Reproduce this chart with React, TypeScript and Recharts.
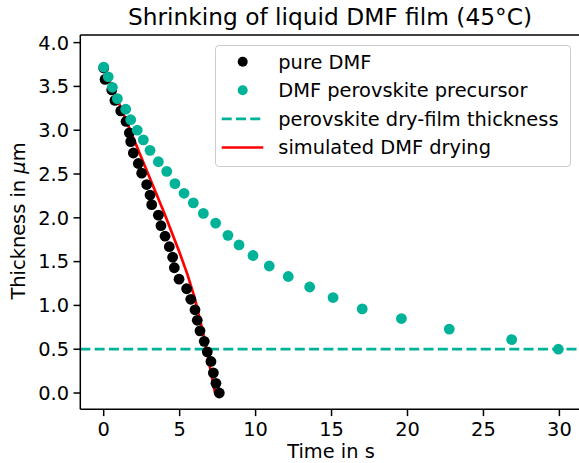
import React from 'react';
import {
  ComposedChart,
  Scatter,
  Line,
  XAxis,
  YAxis,
  ReferenceLine,
  Legend,
} from 'recharts';

// ---- data ----
const pureTime = [0, 0.09, 0.53, 0.74, 1.12, 1.47, 1.69, 1.78, 1.95, 2.28, 2.5, 2.83, 3.05, 3.16, 3.6, 3.77, 4.04, 4.32, 4.54, 4.65, 4.96, 5.46, 5.73, 6.01, 6.16, 6.34, 6.62, 6.82, 7.06, 7.22, 7.39, 7.61];
const pureThick = [3.71, 3.58, 3.46, 3.34, 3.22, 3.1, 2.97, 2.87, 2.74, 2.62, 2.51, 2.38, 2.26, 2.15, 2.03, 1.91, 1.79, 1.67, 1.55, 1.43, 1.3, 1.19, 1.07, 0.95, 0.83, 0.71, 0.59, 0.47, 0.36, 0.23, 0.11, 0.0];

const precTime = [0, 0.3, 0.57, 0.9, 1.45, 1.78, 2.21, 2.61, 3.05, 3.6, 4.15, 4.69, 5.29, 5.9, 6.56, 7.37, 8.18, 8.91, 9.83, 10.9, 12.15, 13.56, 15.1, 17.02, 19.6, 22.75, 26.86, 29.93];
const precThick = [3.72, 3.61, 3.49, 3.36, 3.24, 3.12, 3.0, 2.89, 2.77, 2.64, 2.53, 2.39, 2.28, 2.17, 2.05, 1.94, 1.8, 1.69, 1.57, 1.45, 1.33, 1.21, 1.09, 0.96, 0.85, 0.73, 0.61, 0.5];

const simTime = [0, 1, 2, 3, 4, 5, 5.5, 6, 6.5, 7, 7.33];
const simThick = [3.72, 3.31, 2.89, 2.47, 2.05, 1.6, 1.36, 1.08, 0.72, 0.29, 0.0];

const dryFilmThickness = 0.5;

const xTicks = [0, 5, 10, 15, 20, 25, 30];
const yTicks = [0, 0.5, 1, 1.5, 2, 2.5, 3, 3.5, 4];

const pureData = pureTime.map((t, i) => ({ t, h: pureThick[i] }));
const precData = precTime.map((t, i) => ({ t, h: precThick[i] }));
const simData = simTime.map((t, i) => ({ t, h: simThick[i] }));

// ---- style ----
const FONT = '"DejaVu Sans", sans-serif';
const FS = 19.4;
const TEAL = '#00b398';
const RED = '#ff0000';
const LW = 2.7;
const DASH = '10 4.3';
const X_DOMAIN: [number, number] = [-1.54, 31.29];
const Y_DOMAIN: [number, number] = [-0.186, 4.087];

const dot = (color: string) => (props: any) => (
  <circle cx={props.cx} cy={props.cy} r={5.4} fill={color} />
);

const legendItems = [
  { label: 'pure DMF', kind: 'dot', color: '#000000' },
  { label: 'DMF perovskite precursor', kind: 'dot', color: TEAL },
  { label: 'perovskite dry-film thickness', kind: 'dash', color: TEAL },
  { label: 'simulated DMF drying', kind: 'line', color: RED },
];

const LegendBox = () => (
  <div
    style={{
      width: 356,
      height: 122,
      boxSizing: 'border-box',
      border: '1px solid #cccccc',
      borderRadius: 4,
      background: 'rgba(255,255,255,0.8)',
      position: 'relative',
    }}
  >
    <svg width={356} height={122} style={{ position: 'absolute', left: -1, top: -1 }}>
      {legendItems.map((it, i) => {
        const cy = 16.7 + i * 28.6;
        return (
          <g key={it.label}>
            {it.kind === 'dot' && <circle cx={27.7} cy={cy} r={5} fill={it.color} />}
            {it.kind === 'dash' && (
              <line x1={6.7} x2={48.3} y1={cy} y2={cy} stroke={it.color} strokeWidth={LW} strokeDasharray={DASH} />
            )}
            {it.kind === 'line' && (
              <line x1={6.7} x2={48.3} y1={cy} y2={cy} stroke={it.color} strokeWidth={LW} />
            )}
            <text x={63.3} y={cy} dy="0.36em" fontFamily={FONT} fontSize={FS} fill="#000">
              {it.label}
            </text>
          </g>
        );
      })}
    </svg>
  </div>
);

export default function App() {
  return (
    <div style={{ position: 'absolute', left: 0, top: 0, width: 579, height: 463, overflow: 'hidden', background: '#fff' }}>
      <ComposedChart
        width={579}
        height={463}
        margin={{ top: 35, right: 0, bottom: 13.7, left: 0 }}
      >
        <XAxis
          dataKey="t"
          type="number"
          domain={X_DOMAIN}
          ticks={xTicks}
          allowDataOverflow
          height={40}
          tickSize={6.8}
          tickMargin={6}
          stroke="#000"
          strokeWidth={1.5}
          tick={{ fill: '#000', fontSize: FS, fontFamily: FONT }}
          tickFormatter={(v: number) => String(v)}
          label={{
            content: () => (
              <text x={331} y={458} textAnchor="middle" fontFamily={FONT} fontSize={FS} fill="#000">
                Time in s
              </text>
            ),
          }}
        />
        <YAxis
          dataKey="h"
          type="number"
          domain={Y_DOMAIN}
          ticks={yTicks}
          allowDataOverflow
          width={80.3}
          tickSize={6.8}
          tickMargin={4.5}
          stroke="#000"
          strokeWidth={1.5}
          tick={{ fill: '#000', fontSize: FS, fontFamily: FONT }}
          tickFormatter={(v: number) => v.toFixed(1)}
          label={{
            content: () => (
              <text
                x={25}
                y={221}
                textAnchor="middle"
                transform="rotate(-90, 25, 221)"
                fontFamily={FONT}
                fontSize={FS}
                fill="#000"
              >
                Thickness in <tspan fontStyle="italic">μ</tspan>m
              </text>
            ),
          }}
        />
        <ReferenceLine y={Y_DOMAIN[1]} stroke="#000" strokeWidth={1.5} />
        <Scatter
          name="pure DMF"
          data={pureData}
          dataKey="h"
          fill="#000"
          shape={dot('#000000')}
          isAnimationActive={false}
        />
        <Scatter
          name="DMF perovskite precursor"
          data={precData}
          dataKey="h"
          fill={TEAL}
          shape={dot(TEAL)}
          isAnimationActive={false}
        />
        <ReferenceLine
          y={dryFilmThickness}
          stroke={TEAL}
          strokeWidth={LW}
          strokeDasharray={DASH}
        />
        <Line
          name="simulated DMF drying"
          data={simData}
          dataKey="h"
          type="linear"
          stroke={RED}
          strokeWidth={LW}
          dot={false}
          activeDot={false}
          isAnimationActive={false}
        />
        <Legend
          layout="horizontal"
          verticalAlign="middle"
          align="center"
          wrapperStyle={{ position: 'absolute', left: 215, top: 45, width: 356, height: 122 }}
          content={() => <LegendBox />}
        />
      </ComposedChart>
      <svg
        width={579}
        height={40}
        style={{ position: 'absolute', left: 0, top: 0, pointerEvents: 'none' }}
      >
        <text x={330} y={25} textAnchor="middle" fontFamily={FONT} fontSize={23.3} fill="#000">
          Shrinking of liquid DMF film (45°C)
        </text>
      </svg>
    </div>
  );
}
